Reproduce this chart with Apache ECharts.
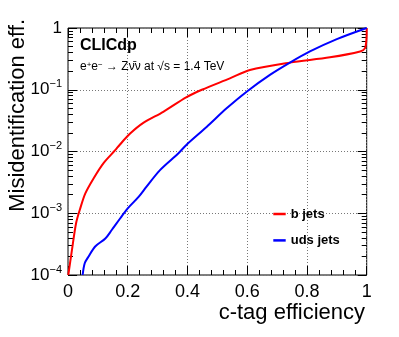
<!DOCTYPE html>
<html>
<head>
<meta charset="utf-8">
<script src="https://cdn.jsdelivr.net/npm/echarts@6/dist/echarts.min.js"></script>
<style>
  html, body { margin: 0; padding: 0; background: #fff; }
  #chart { width: 399px; height: 337px; }
</style>
</head>
<body>
<div id="chart"></div>
<script>
// b jets: c-tag efficiency vs misidentification
const bEff = [0.001, 0.013, 0.027, 0.041, 0.058, 0.086, 0.119, 0.158, 0.174, 0.208, 0.252, 0.319, 0.397, 0.448, 0.542, 0.609, 0.743, 0.877, 0.978, 0.994, 0.999, 1.0];
const bMis = [1.0e-4, 2.5e-4, 6.9e-4, 1.2e-3, 2.1e-3, 3.7e-3, 6.5e-3, 1.05e-2, 1.3e-2, 1.95e-2, 2.9e-2, 4.4e-2, 7.6e-2, 0.1, 0.153, 0.209, 0.275, 0.335, 0.417, 0.468, 0.65, 1.0];

// uds jets
const udsEff = [0.049, 0.056, 0.069, 0.091, 0.125, 0.147, 0.175, 0.2, 0.237, 0.263, 0.308, 0.369, 0.397, 0.464, 0.531, 0.598, 0.676, 0.743, 0.81, 0.9, 1.0];
const udsMis = [1.0e-4, 1.55e-4, 2.0e-4, 2.9e-4, 3.9e-4, 5.4e-4, 8.3e-4, 1.2e-3, 1.86e-3, 2.7e-3, 5.0e-3, 9.3e-3, 1.29e-2, 2.5e-2, 5.0e-2, 9.3e-2, 0.174, 0.275, 0.417, 0.66, 1.0];

const seriesNames = ['b jets', 'uds jets'];
const yMajor = [1e-4, 1e-3, 1e-2, 1e-1, 1];

const FONT = '"Liberation Sans", Arial, sans-serif';

// minor ticks of the log axis: 2..9 in each decade
const yMinor = [];
for (let d = -4; d < 0; d++) {
    for (let k = 2; k <= 9; k++) {
        yMinor.push(k * Math.pow(10, d));
    }
}

const zip = (xs, ys) => xs.map((x, i) => [x, ys[i]]);

const chart = echarts.init(document.getElementById('chart'), null, { renderer: 'canvas' });

const logLabel = (v) => {
    const e = Math.round(Math.log10(v));
    if (e === 0) return '{b|1}';
    return '{b|10}{s|−' + (-e) + '}';
};

const gridLine = { show: true, lineStyle: { color: '#777', type: [1, 2], width: 1 } };

const yBase = {
    type: 'log',
    logBase: 10,
    min: 1e-4,
    max: 1,
    axisLine: { show: false },
    splitLine: { show: false },
    axisLabel: { show: false },
};

const xBase = {
    type: 'value',
    min: 0,
    max: 1,
    interval: 0.2,
    axisLine: { show: false },
    axisTick: { inside: true, length: 9, lineStyle: { color: '#000' } },
    minorTick: { show: true, splitNumber: 5, length: 5, lineStyle: { color: '#000' } },
};

const option = {
    animation: false,
    grid: {
        left: 68, right: 32.3, top: 28, bottom: 62,
        show: true, borderColor: '#000', borderWidth: 1, backgroundColor: '#fff'
    },
    xAxis: [
        Object.assign({}, xBase, {
            position: 'bottom',
            splitLine: gridLine,
            axisLabel: { margin: 8, fontSize: 18, color: '#000', fontFamily: FONT }
        }),
        Object.assign({}, xBase, {
            position: 'top',
            splitLine: { show: false },
            axisLabel: { show: false }
        })
    ],
    yAxis: [
        Object.assign({}, yBase, {
            position: 'left',
            axisTick: { inside: true, length: 9, lineStyle: { color: '#000' }, customValues: yMajor },
            splitLine: gridLine,
            axisLabel: {
                show: true, margin: 6, color: '#000', fontFamily: FONT,
                customValues: yMajor,
                formatter: logLabel,
                rich: {
                    b: { fontSize: 17, fontFamily: FONT, color: '#000', lineHeight: 22 },
                    s: { fontSize: 11, fontFamily: FONT, color: '#000', lineHeight: 12, verticalAlign: 'top' }
                }
            }
        }),
        Object.assign({}, yBase, {
            position: 'left',
            axisTick: { inside: true, length: 5, lineStyle: { color: '#000' }, customValues: yMinor }
        }),
        Object.assign({}, yBase, {
            position: 'right',
            axisTick: { inside: true, length: 9, lineStyle: { color: '#000' }, customValues: yMajor }
        }),
        Object.assign({}, yBase, {
            position: 'right',
            axisTick: { inside: true, length: 5, lineStyle: { color: '#000' }, customValues: yMinor }
        })
    ],
    legend: {
        data: seriesNames,
        orient: 'vertical',
        left: 268.3,
        top: 202,
        padding: 5,
        icon: 'rect',
        itemWidth: 12.4,
        itemHeight: 2.5,
        itemGap: 12.4,
        textStyle: { fontSize: 13, fontWeight: 'bold', fontFamily: FONT, color: '#000', lineHeight: 14 }
    },
    series: [
        {
            name: seriesNames[0],
            type: 'line',
            data: zip(bEff, bMis),
            showSymbol: false,
            smooth: 0.3,
            color: '#ff0000',
            lineStyle: { color: '#ff0000', width: 2 },
            clip: true
        },
        {
            name: seriesNames[1],
            type: 'line',
            data: zip(udsEff, udsMis),
            showSymbol: false,
            smooth: 0.3,
            color: '#0000ff',
            lineStyle: { color: '#0000ff', width: 2 },
            clip: true
        }
    ],
    graphic: [
        {
            type: 'text', x: 80, y: 46,
            style: { text: 'CLICdp', font: 'bold 16px ' + FONT, fill: '#000', textAlign: 'left', textVerticalAlign: 'middle' }
        },
        {
            type: 'text', x: 80, y: 67,
            style: {
                text: 'e{s|+}e{s|−} → Zν̄ν at √s = 1.4 TeV',
                font: '12px ' + FONT, fill: '#000', textAlign: 'left', textVerticalAlign: 'middle',
                rich: {
                    s: { fontSize: 8, fontFamily: FONT, fill: '#000', verticalAlign: 'top', lineHeight: 9 }
                }
            }
        },
        {
            type: 'text', x: 365, y: 313,
            style: { text: 'c-tag efficiency', font: '22px ' + FONT, fill: '#000', textAlign: 'right', textVerticalAlign: 'middle' }
        },
        {
            type: 'text', x: 18, y: 19, rotation: Math.PI / 2,
            style: { text: 'Misidentification eff.', font: '22px ' + FONT, fill: '#000', textAlign: 'right', textVerticalAlign: 'middle' }
        }
    ]
};

chart.setOption(option);
</script>
</body>
</html>
